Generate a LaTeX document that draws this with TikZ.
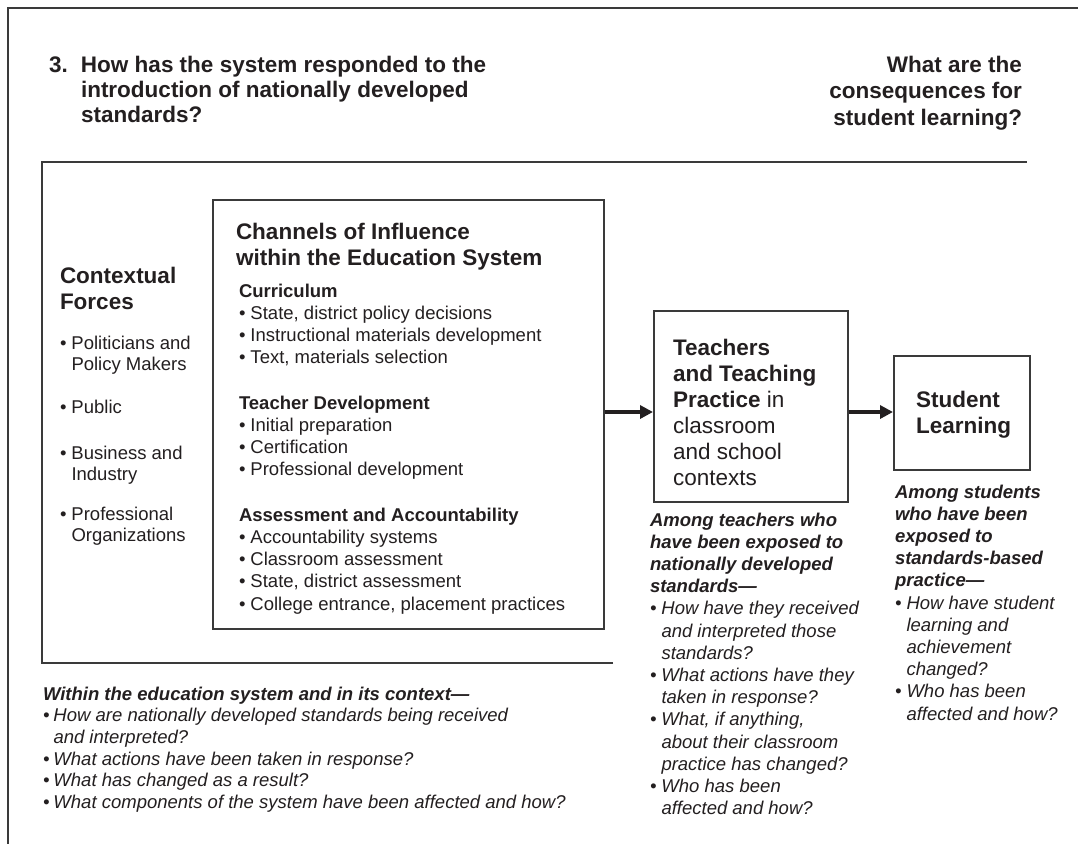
\documentclass[tikz,border=0pt]{standalone}
\usepackage{fontspec}
\setmainfont{Liberation Sans}
\usetikzlibrary{arrows.meta}
\definecolor{ink}{HTML}{231F20}
\definecolor{rulec}{HTML}{3A3A3A}
\newlength{\bulw}\setlength{\bulw}{11.5pt}
\newcommand{\bu}{\makebox[\bulw][l]{•}}
\newcommand{\hi}{\hspace*{\bulw}}
\begin{document}
\begin{tikzpicture}[x=1pt,y=-1pt,
  txt/.style={inner sep=0pt, outer sep=0pt, anchor=base west, align=left, text=ink,
    font=\fontsize{18.5}{22.3}\selectfont},
  head/.style={inner sep=0pt, outer sep=0pt, anchor=base west, align=left, text=ink,
    font=\fontsize{22.5}{26}\selectfont\bfseries},
  plainhead/.style={inner sep=0pt, outer sep=0pt, anchor=base west, align=left, text=ink,
    font=\fontsize{22.5}{26}\selectfont},
  ques/.style={inner sep=0pt, outer sep=0pt, anchor=base west, align=left, text=ink,
    font=\fontsize{18.5}{22.2}\selectfont\itshape},
  box/.style={draw=rulec, line width=1.5pt, inner sep=0pt, anchor=north west, fill=none},
  frameline/.style={draw=rulec, line width=1.3pt},
  ctxline/.style={draw=rulec, line width=2pt},
  arr/.style={draw=ink, line width=4pt, -{Triangle[length=13pt,width=13pt]}}
]
\useasboundingbox (0,0) rectangle (1078,844);
\fill[white] (0,0) rectangle (1078,844);

% outer frame (top and left)
\coordinate (fTR) at (1078,8);
\coordinate (fTL) at (8,8);
\coordinate (fBL) at (8,844);
\draw[frameline] (fTR) -- (fTL) -- (fBL);

% context region lines
\coordinate (cBR) at (613,663);
\coordinate (cBL) at (42,663);
\coordinate (cTL) at (42,162);
\coordinate (cTR) at (1027,162);
\draw[ctxline] (cBR) -- (cBL) -- (cTL) -- (cTR);

% titles (anchor = baseline of last line)
\node[head, font=\fontsize{22.5}{25}\selectfont\bfseries] (q3) at (49,72+2*25)
  {\makebox[32pt][l]{3.}How has the system responded to the\\\hspace*{32pt}introduction of nationally developed\\\hspace*{32pt}standards?};
\node[head, anchor=base east, align=right, font=\fontsize{22.5}{26.5}\selectfont\bfseries] (qc) at (1022,72+2*26.5)
  {What are the\\consequences for\\student learning?};

% contextual forces
\node[head] (cf) at (60,283+26) {Contextual\\Forces};
\node[txt, font=\fontsize{18.5}{21.8}\selectfont] (cf1) at (60,349+21.8) {\bu Politicians and\\\hi Policy Makers};
\node[txt] (cf2) at (60,413) {\bu Public};
\node[txt, font=\fontsize{18.5}{21.8}\selectfont] (cf3) at (60,459+21.8) {\bu Business and\\\hi Industry};
\node[txt, font=\fontsize{18.5}{21.8}\selectfont] (cf4) at (60,520+21.8) {\bu Professional\\\hi Organizations};

% channels box
\node[box, minimum width=391pt, minimum height=429pt] (chan) at (212,199) {};
\node[head, font=\fontsize{22.5}{26.5}\selectfont\bfseries] (cht) at (236,239+26.5) {Channels of Influence\\within the Education System};
\node[txt] (cur) at (239,297+3*22.3) {\textbf{Curriculum}\\\bu State, district policy decisions\\\bu Instructional materials development\\\bu Text, materials selection};
\node[txt] (tdv) at (239,409+3*22.3) {\textbf{Teacher Development}\\\bu Initial preparation\\\bu Certification\\\bu Professional development};
\node[txt] (asa) at (239,521+4*22.3) {\textbf{Assessment and Accountability}\\\bu Accountability systems\\\bu Classroom assessment\\\bu State, district assessment\\\bu College entrance, placement practices};

% teachers box
\node[box, minimum width=194pt, minimum height=191pt] (teach) at (653,310) {};
\node[plainhead] (tt) at (673,355+5*26) {\textbf{Teachers}\\\textbf{and Teaching}\\\textbf{Practice} in\\classroom\\and school\\contexts};

% student box
\node[box, minimum width=136pt, minimum height=114pt] (stud) at (893,355) {};
\node[head] (st) at (916,407+26) {Student\\Learning};

% arrows
\coordinate (ay) at (0,412);
\draw[arr] (chan.east |- ay) -- (teach.west |- ay);
\draw[arr] (teach.east |- ay) -- (stud.west |- ay);

% questions
\node[ques] (tq) at (650,526+13*22.2) {\textbf{Among teachers who}\\\textbf{have been exposed to}\\\textbf{nationally developed}\\\textbf{standards—}\\\bu How have they received\\\hi and interpreted those\\\hi standards?\\\bu What actions have they\\\hi taken in response?\\\bu What, if anything,\\\hi about their classroom\\\hi practice has changed?\\\bu Who has been\\\hi affected and how?};
\node[ques] (sq) at (895,498+10*22.2) {\textbf{Among students}\\\textbf{who have been}\\\textbf{exposed to}\\\textbf{standards-based}\\\textbf{practice—}\\\bu How have student\\\hi learning and\\\hi achievement\\\hi changed?\\\bu Who has been\\\hi affected and how?};
\node[ques, font=\fontsize{18.5}{21.7}\selectfont\itshape] (bq) at (43,700+5*21.7) {\textbf{Within the education system and in its context—}\\\makebox[10.5pt][l]{•}How are nationally developed standards being received\\\hspace*{10.5pt}and interpreted?\\\makebox[10.5pt][l]{•}What actions have been taken in response?\\\makebox[10.5pt][l]{•}What has changed as a result?\\\makebox[10.5pt][l]{•}What components of the system have been affected and how?};
\end{tikzpicture}
\end{document}
